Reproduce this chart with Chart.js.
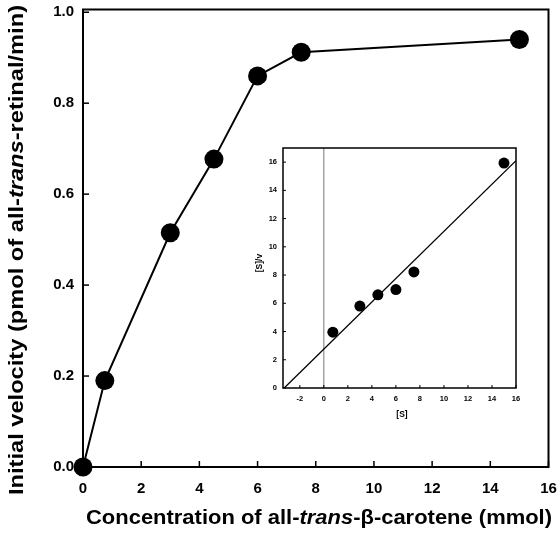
<!DOCTYPE html>
<html>
<head>
<meta charset="utf-8">
<script src="https://cdn.jsdelivr.net/npm/chart.js@4.4.1/dist/chart.umd.min.js"></script>
<style>
html,body{margin:0;padding:0;background:#fff;}
#wrap{position:relative;width:558px;height:537px;}
#main{position:absolute;left:0;top:0;}
#inset{position:absolute;left:250px;top:140px;}
</style>
</head>
<body>
<div id="wrap">
<canvas id="main" width="558" height="537"></canvas>
<canvas id="inset" width="280" height="285"></canvas>
</div>
<script>
// ---- Main chart data ----
const concentration = [0, 0.75, 3, 4.5, 6, 7.5, 15];
const velocity = [0, 0.19, 0.515, 0.677, 0.86, 0.912, 0.94];
const mainXTicks = [0, 2, 4, 6, 8, 10, 12, 14, 16];
const mainYTicks = [0.0, 0.2, 0.4, 0.6, 0.8, 1.0];
const mainXTitle = [["Concentration of all-", false], ["trans", true], ["-\u03B2-carotene (mmol)", false]];
const mainYTitle = [["Initial velocity (pmol of all-", false], ["trans", true], ["-retinal/min)", false]];

// ---- Inset (Hanes plot) data ----
const insetS = [0.75, 3, 4.5, 6, 7.5, 15];
const insetSv = [3.95, 5.8, 6.6, 6.97, 8.22, 15.93];
const fitX = [-3.3, 16];
const fitY = [0, 16.1];
const zeroLineX = [0, 0];
const zeroLineY = [0, 17];
const insetXTicks = [-2, 0, 2, 4, 6, 8, 10, 12, 14, 16];
const insetYTicks = [0, 2, 4, 6, 8, 10, 12, 14, 16];
const insetXTitle = "[S]";
const insetYTitle = "[S]/v";

const FONT = "'Liberation Sans', Arial, sans-serif";

function drawMixed(ctx, parts, size, x, y, rotate, targetW) {
  ctx.save();
  ctx.translate(x, y);
  if (rotate) ctx.rotate(-Math.PI / 2);
  ctx.fillStyle = '#000';
  ctx.textBaseline = 'middle';
  let total = 0;
  const widths = parts.map(p => {
    ctx.font = (p[1] ? 'italic ' : '') + 'bold ' + size + 'px ' + FONT;
    const w = ctx.measureText(p[0]).width; total += w; return w;
  });
  if (targetW) ctx.scale(targetW / total, 1);
  let cx = -total / 2;
  parts.forEach((p, i) => {
    ctx.font = (p[1] ? 'italic ' : '') + 'bold ' + size + 'px ' + FONT;
    ctx.textAlign = 'left';
    ctx.fillText(p[0], cx, 0);
    cx += widths[i];
  });
  ctx.restore();
}

function framePlugin(opts) {
  return {
    id: 'frame',
    afterDraw(chart) {
      const ctx = chart.ctx, a = chart.chartArea;
      ctx.save();
      ctx.strokeStyle = '#000';
      ctx.lineWidth = opts.lw;
      ctx.strokeRect(a.left, a.top, a.right - a.left, a.bottom - a.top);
      ctx.lineWidth = opts.tlw;
      const xs = chart.scales.x;
      xs.ticks.forEach(t => {
        const px = xs.getPixelForValue(t.value);
        ctx.beginPath(); ctx.moveTo(px, a.bottom); ctx.lineTo(px, a.bottom - opts.tl); ctx.stroke();
      });
      const ys = chart.scales.y;
      ys.ticks.forEach(t => {
        const py = ys.getPixelForValue(t.value);
        ctx.beginPath(); ctx.moveTo(a.left, py); ctx.lineTo(a.left + opts.tl, py); ctx.stroke();
      });
      ctx.restore();
      if (opts.titles) opts.titles(ctx, chart);
    }
  };
}

function zeroPad(s) { s.paddingLeft = 0; s.paddingRight = 0; s.paddingTop = 0; s.paddingBottom = 0; }

new Chart(document.getElementById('main'), {
  type: 'scatter',
  data: {
    datasets: [{
      data: concentration.map((x, i) => ({x: x, y: velocity[i]})),
      showLine: true,
      borderColor: '#000',
      borderWidth: 2,
      backgroundColor: '#000',
      pointRadius: 9.5,
      pointBackgroundColor: '#000',
      pointBorderWidth: 0,
      clip: false
    }]
  },
  options: {
    responsive: false,
    animation: false,
    events: [],
    layout: {padding: {top: 9, right: 9, left: 0, bottom: 0}},
    plugins: {legend: {display: false}, tooltip: {enabled: false}},
    scales: {
      x: {
        type: 'linear', min: 0, max: 16,
        afterBuildTicks: s => { s.ticks = mainXTicks.map(v => ({value: v})); },
        afterFit: s => { s.height = 70; zeroPad(s); },
        ticks: {color: '#000', font: {family: FONT, size: 15, weight: 'bold'}, padding: 13},
        grid: {display: false, drawTicks: false},
        border: {display: false}
      },
      y: {
        type: 'linear', min: 0, max: 1.006,
        afterBuildTicks: s => { s.ticks = mainYTicks.map(v => ({value: v})); },
        afterFit: s => { s.width = 83; zeroPad(s); },
        ticks: {color: '#000', font: {family: FONT, size: 15, weight: 'bold'}, padding: 9,
          callback: v => Number(v).toFixed(1)},
        grid: {display: false, drawTicks: false},
        border: {display: false}
      }
    }
  },
  plugins: [framePlugin({lw: 2, tlw: 1.5, tl: 6, titles: (ctx) => {
    drawMixed(ctx, mainXTitle, 20, 319, 518, false, 466);
    drawMixed(ctx, mainYTitle, 20, 17, 250, true, 490);
  }})]
});

new Chart(document.getElementById('inset'), {
  type: 'scatter',
  data: {
    datasets: [
      {
        data: insetS.map((x, i) => ({x: x, y: insetSv[i]})),
        backgroundColor: '#000', pointRadius: 5.5, pointBorderWidth: 0, showLine: false, clip: false
      },
      {
        data: fitX.map((x, i) => ({x: x, y: fitY[i]})),
        showLine: true, borderColor: '#000', borderWidth: 1.3, pointRadius: 0
      },
      {
        data: zeroLineX.map((x, i) => ({x: x, y: zeroLineY[i]})),
        showLine: true, borderColor: '#555', borderWidth: 0.8, pointRadius: 0
      }
    ]
  },
  options: {
    responsive: false,
    animation: false,
    events: [],
    layout: {padding: {top: 8, right: 14, left: 0, bottom: 0}},
    plugins: {legend: {display: false}, tooltip: {enabled: false}},
    scales: {
      x: {
        type: 'linear', min: -3.4, max: 16,
        afterBuildTicks: s => { s.ticks = insetXTicks.map(v => ({value: v})); },
        afterFit: s => { s.height = 37; zeroPad(s); },
        ticks: {color: '#000', font: {family: FONT, size: 7.5, weight: 'bold'}, padding: 6},
        grid: {display: false, drawTicks: false},
        border: {display: false}
      },
      y: {
        type: 'linear', min: 0, max: 17,
        afterBuildTicks: s => { s.ticks = insetYTicks.map(v => ({value: v})); },
        afterFit: s => { s.width = 33; zeroPad(s); },
        ticks: {color: '#000', font: {family: FONT, size: 7.5, weight: 'bold'}, padding: 6},
        grid: {display: false, drawTicks: false},
        border: {display: false}
      }
    }
  },
  plugins: [framePlugin({lw: 1.5, tlw: 1, tl: 3, titles: (ctx) => {
    drawMixed(ctx, [[insetXTitle, false]], 8.5, 152, 275, false);
    drawMixed(ctx, [[insetYTitle, false]], 8.5, 10, 123, true);
  }})]
});
</script>
</body>
</html>
